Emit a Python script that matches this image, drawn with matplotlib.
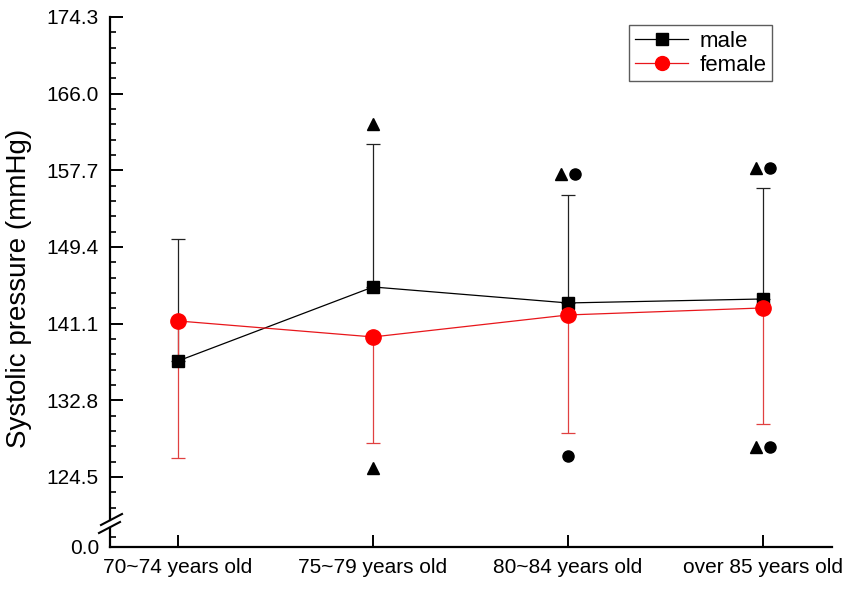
import matplotlib
matplotlib.use("Agg")
import matplotlib.pyplot as plt
from matplotlib.ticker import FixedLocator
from matplotlib.lines import Line2D
import matplotlib.transforms as mtrans

plt.rcParams['font.family'] = ['Liberation Sans', 'DejaVu Sans']

categories = ["70~74 years old", "75~79 years old", "80~84 years old", "over 85 years old"]
male_mean = [137.06, 145.07, 143.34, 143.77]
male_sd = [13.21, 15.48, 11.69, 12.05]
female_mean = [141.39, 139.66, 142.04, 142.80]
female_sd = [14.83, 11.48, 12.78, 12.56]
y_ticks = [124.5, 132.8, 141.1, 149.4, 157.7, 166.0, 174.3]

# significance symbols: (category index, horizontal offset in points, y value, marker)
sig_cat = [1, 1, 2, 2, 2, 3, 3, 3, 3]
sig_off = [0, 0, -5, 5, 0, -5, 5, -5, 5]
sig_y = [162.68, 125.51, 157.27, 157.27, 126.77, 157.99, 157.99, 127.78, 127.78]
sig_mk = ['^', '^', '^', 'o', 'o', '^', 'o', '^', 'o']

W, H = 851, 591
fig = plt.figure(figsize=(W / 100, H / 100), dpi=100)

def fr(x0, y_top, x1, y_bot):
    return [x0 / W, 1 - y_bot / H, (x1 - x0) / W, (y_bot - y_top) / H]

ax = fig.add_axes(fr(110, 17, 832, 520))
axb = fig.add_axes(fr(110, 528, 832, 547), sharex=ax)

x = list(range(len(categories)))
xlim = (-0.349, 3.354)

male_c = 'black'
fem_c = '#ff0000'
ax.errorbar(x, male_mean, yerr=[[0] * 4, male_sd], color=male_c, lw=0.9,
            marker='s', ms=9, mfc=male_c, mec=male_c, capsize=5, capthick=0.9,
            elinewidth=0.9, ecolor='#222222', zorder=3)
ax.errorbar(x, female_mean, yerr=[female_sd, [0] * 4], color='#e8161b', lw=0.9,
            marker='o', ms=11, mfc=fem_c, mec=fem_c, capsize=5, capthick=0.9,
            elinewidth=0.9, ecolor='#e04040', zorder=3)

for c, o, yv, m in zip(sig_cat, sig_off, sig_y, sig_mk):
    tr = ax.transData + mtrans.ScaledTranslation(o / 72, 0, fig.dpi_scale_trans)
    ax.plot([c], [yv], marker=m, ms=8, color='black', ls='none',
            transform=tr, clip_on=False)

ax.set_xlim(*xlim)
ax.set_ylim(119.84, 174.3)
ax.yaxis.set_major_locator(FixedLocator(y_ticks))
ax.set_yticklabels([f"{v:.1f}" for v in y_ticks])
ax.yaxis.set_minor_locator(FixedLocator([124.5 + 1.66 * k for k in range(-3, 31)]))

for s in ['top', 'right', 'bottom']:
    ax.spines[s].set_visible(False)
ax.spines['left'].set_linewidth(1.6)
ax.tick_params(axis='x', which='both', bottom=False, labelbottom=False)
ax.tick_params(axis='y', which='major', direction='in', length=9, width=1.4, labelsize=15, pad=8)
ax.tick_params(axis='y', which='minor', direction='in', length=4.5, width=1.2)

axb.set_ylim(0, 3.16)
axb.yaxis.set_major_locator(FixedLocator([0.0]))
axb.yaxis.set_minor_locator(FixedLocator([1.66]))
axb.set_yticklabels(["0.0"])
for s in ['top', 'right']:
    axb.spines[s].set_visible(False)
axb.spines['left'].set_linewidth(1.6)
axb.spines['bottom'].set_linewidth(1.6)
axb.set_xticks(x)
axb.set_xticklabels(categories)
axb.tick_params(axis='y', which='major', direction='in', length=9, width=1.4, labelsize=15, pad=8)
axb.tick_params(axis='y', which='minor', direction='in', length=4.5, width=1.2)
axb.tick_params(axis='x', direction='in', length=9, width=1.4, labelsize=15, pad=8)
axb.patch.set_alpha(0)

# break marks on the y axis
for (x0, y0, x1, y1) in [(101, 525, 122, 514), (99, 533, 120, 522)]:
    fig.add_artist(Line2D([x0 / W, x1 / W], [1 - y0 / H, 1 - y1 / H], color='black',
                          lw=1.5, transform=fig.transFigure))

fig.text(19 / W, 1 - 288 / H, "Systolic pressure (mmHg)", rotation=90,
         fontsize=20, va='center', ha='center')

handles = [Line2D([], [], color=male_c, lw=0.9, marker='s', ms=9, mfc=male_c, mec=male_c),
           Line2D([], [], color='#e8161b', lw=0.9, marker='o', ms=10, mfc=fem_c, mec=fem_c)]
leg = ax.legend(handles, ['male', 'female'], loc='upper right',
                bbox_to_anchor=(772 / W, 1 - 25 / H),
                bbox_transform=fig.transFigure, borderaxespad=0, fontsize=16,
                frameon=True, fancybox=False, handlelength=2.4, handletextpad=0.5,
                borderpad=0.25, labelspacing=0.15)
leg.get_frame().set_edgecolor('#333333')
leg.get_frame().set_linewidth(1.0)

fig.savefig("out.png", dpi=100)
